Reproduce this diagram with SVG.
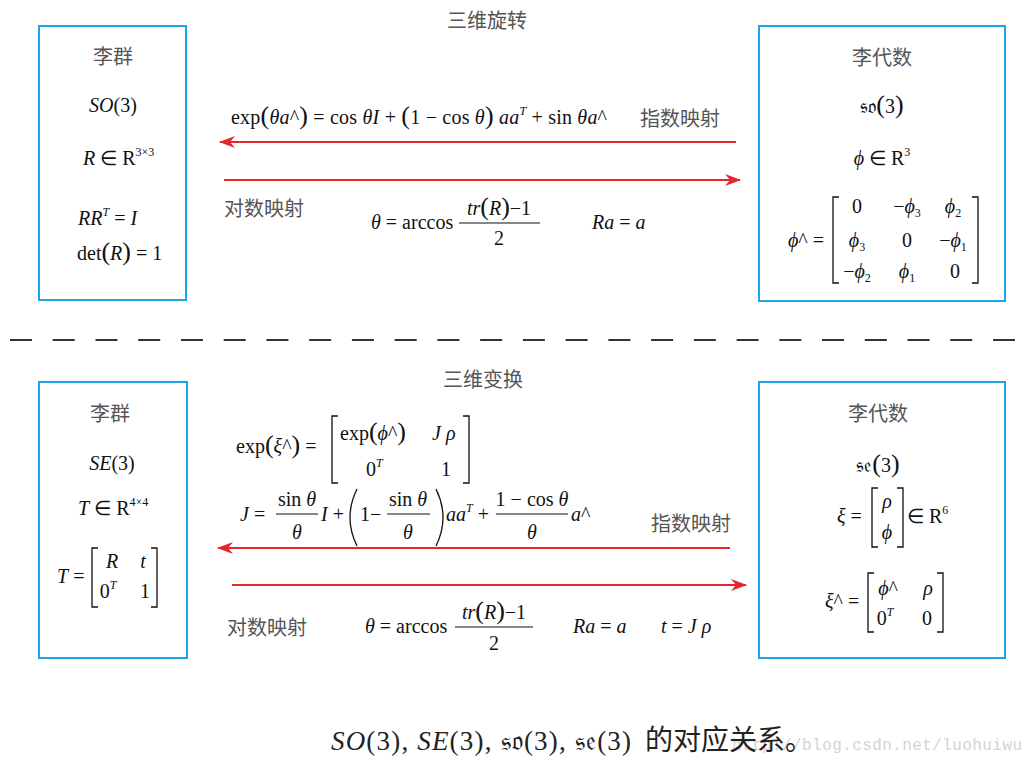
<svg xmlns="http://www.w3.org/2000/svg" width="1024" height="760" viewBox="0 0 1024 760">
<style>
.m{font-family:"Liberation Serif","Times New Roman",serif;font-size:20px;fill:#111}
.i{font-style:italic}
.s{font-size:12px}
.b{font-size:26px}
.cn{font-family:"Noto Sans CJK SC",sans-serif;font-size:20px;fill:#555}
.box{fill:#fff;stroke:#1aa6e6;stroke-width:2}
.br{fill:none;stroke:#111;stroke-width:1.3}
.fl{stroke:#111;stroke-width:1}
.arr{stroke:#e5262b;stroke-width:2;fill:none;marker-end:url(#ah)}
</style>
<defs>
<marker id="ah" viewBox="0 0 16 12" refX="15" refY="6" markerWidth="16" markerHeight="12" orient="auto" markerUnits="userSpaceOnUse">
<path d="M0,0 L16,6 L0,12 L5,6 z" fill="#e5262b"/>
</marker>
</defs>
<rect width="1024" height="760" fill="#fff"/>

<text class="cn" x="447" y="28">三维旋转</text>
<text class="cn" x="443" y="387">三维变换</text>

<g id="so3-group">
<rect class="box" x="39" y="26" width="147" height="274"/>
<text class="cn" x="113" y="64" text-anchor="middle">李群</text>
<text class="m" x="113" y="112" text-anchor="middle"><tspan class="i">SO</tspan>(3)</text>
<text class="m" x="83" y="165"><tspan class="i">R</tspan> ∈ R<tspan class="s" dy="-9">3×3</tspan></text>
<text class="m" x="78" y="225"><tspan class="i">RR</tspan><tspan class="s i" dy="-9">T</tspan><tspan dy="9"> = </tspan><tspan class="i">I</tspan></text>
<text class="m" x="77" y="260">det<tspan class="b">(</tspan><tspan class="i">R</tspan><tspan class="b">)</tspan> = 1</text>
</g>

<g id="so3-algebra">
<rect class="box" x="759" y="26" width="246" height="275"/>
<text class="cn" x="882" y="65" text-anchor="middle">李代数</text>
<text class="m" x="882" y="113" text-anchor="middle">𝔰𝔬<tspan class="b">(</tspan>3<tspan class="b">)</tspan></text>
<text class="m" x="882" y="165" text-anchor="middle"><tspan class="i">ϕ</tspan> ∈ R<tspan class="s" dy="-9">3</tspan></text>
<text class="m" x="788" y="247"><tspan class="i">ϕ</tspan>^ =</text>
<path class="br" d="M839,197 H833 V283 H839 M972,197 H978 V283 H972"/>
<g class="m" text-anchor="middle">
<text x="857" y="213">0</text>
<text x="907" y="213">−<tspan class="i">ϕ</tspan><tspan class="s" dy="4">3</tspan></text>
<text x="953" y="213"><tspan class="i">ϕ</tspan><tspan class="s" dy="4">2</tspan></text>
<text x="857" y="247"><tspan class="i">ϕ</tspan><tspan class="s" dy="4">3</tspan></text>
<text x="907" y="247">0</text>
<text x="953" y="247">−<tspan class="i">ϕ</tspan><tspan class="s" dy="4">1</tspan></text>
<text x="857" y="278">−<tspan class="i">ϕ</tspan><tspan class="s" dy="4">2</tspan></text>
<text x="907" y="278"><tspan class="i">ϕ</tspan><tspan class="s" dy="4">1</tspan></text>
<text x="955" y="278">0</text>
</g>
</g>

<g id="se3-group">
<rect class="box" x="39" y="382" width="148" height="276"/>
<text class="cn" x="110" y="421" text-anchor="middle">李群</text>
<text class="m" x="112" y="470" text-anchor="middle"><tspan class="i">SE</tspan>(3)</text>
<text class="m" x="78" y="515"><tspan class="i">T</tspan> ∈ R<tspan class="s" dy="-9">4×4</tspan></text>
<text class="m" x="57" y="583"><tspan class="i">T</tspan> =</text>
<path class="br" d="M98,548 H92 V607 H98 M151,548 H157 V607 H151"/>
<g class="m" text-anchor="middle">
<text class="i" x="112" y="568">R</text>
<text class="i" x="143" y="568">t</text>
<text x="108" y="598">0<tspan class="s i" dy="-9">T</tspan></text>
<text x="145" y="598">1</text>
</g>
</g>

<g id="se3-algebra">
<rect class="box" x="759" y="382" width="246" height="276"/>
<text class="cn" x="878" y="421" text-anchor="middle">李代数</text>
<text class="m" x="878" y="472" text-anchor="middle">𝔰𝔢<tspan class="b">(</tspan>3<tspan class="b">)</tspan></text>
<text class="m" x="837" y="523"><tspan class="i">ξ</tspan> =</text>
<path class="br" d="M878,488 H872 V547 H878 M897,488 H903 V547 H897"/>
<text class="m i" x="887" y="508" text-anchor="middle">ρ</text>
<text class="m i" x="887" y="539" text-anchor="middle">ϕ</text>
<text class="m" x="907" y="523">∈ R<tspan class="s" dy="-9">6</tspan></text>
<text class="m" x="825" y="608"><tspan class="i">ξ</tspan>^ =</text>
<path class="br" d="M874,573 H868 V632 H874 M937,573 H943 V632 H937"/>
<g class="m" text-anchor="middle">
<text x="888" y="595"><tspan class="i">ϕ</tspan>^</text>
<text class="i" x="928" y="595">ρ</text>
<text x="885" y="625">0<tspan class="s i" dy="-9">T</tspan></text>
<text x="927" y="625">0</text>
</g>
</g>

<g id="connectors">
<line class="arr" x1="736" y1="142" x2="220" y2="142"/>
<line class="arr" x1="224" y1="180" x2="740" y2="180"/>
<line class="arr" x1="730" y1="548" x2="218" y2="548"/>
<line class="arr" x1="232" y1="585" x2="746" y2="585"/>
<line x1="10" y1="340" x2="1015" y2="340" stroke="#333" stroke-width="2" stroke-dasharray="22 20.74"/>
</g>

<g id="top-labels">
<text class="m" x="231" y="124" textLength="376">exp<tspan class="b">(</tspan><tspan class="i">θa</tspan>^<tspan class="b">)</tspan> = cos <tspan class="i">θI</tspan> + <tspan class="b">(</tspan>1 − cos <tspan class="i">θ</tspan><tspan class="b">)</tspan> <tspan class="i">aa</tspan><tspan class="s i" dy="-9">T</tspan><tspan dy="9"> + sin </tspan><tspan class="i">θa</tspan>^</text>
<text class="cn" x="640" y="126">指数映射</text>
<text class="cn" x="224" y="216">对数映射</text>
<text class="m" x="371" y="229"><tspan class="i">θ</tspan> = arccos</text>
<text class="m" x="499" y="215" text-anchor="middle"><tspan class="i">tr</tspan><tspan class="b">(</tspan><tspan class="i">R</tspan><tspan class="b">)</tspan>−1</text>
<line class="fl" x1="459" y1="223" x2="540" y2="223"/>
<text class="m" x="499" y="245" text-anchor="middle">2</text>
<text class="m" x="592" y="229"><tspan class="i">Ra</tspan> = <tspan class="i">a</tspan></text>
</g>

<g id="bottom-labels">
<text class="m" x="236" y="453">exp<tspan class="b">(</tspan><tspan class="i">ξ</tspan>^<tspan class="b">)</tspan> =</text>
<path class="br" d="M338,416 H332 V483 H338 M463,416 H469 V483 H463"/>
<text class="m" x="340" y="440">exp<tspan class="b">(</tspan><tspan class="i">ϕ</tspan>^<tspan class="b">)</tspan></text>
<text class="m i" x="432" y="440">J ρ</text>
<text class="m" x="366" y="476">0<tspan class="s i" dy="-9">T</tspan></text>
<text class="m" x="446" y="476" text-anchor="middle">1</text>

<text class="m i" x="240" y="521">J<tspan font-style="normal"> =</tspan></text>
<text class="m" x="297" y="506" text-anchor="middle">sin <tspan class="i">θ</tspan></text>
<line class="fl" x1="276" y1="514" x2="318" y2="514"/>
<text class="m i" x="297" y="539" text-anchor="middle">θ</text>
<text class="m" x="321" y="521"><tspan class="i">I</tspan> +</text>
<path class="br" d="M357,489 Q343,517.5 357,546" stroke-width="1.6"/>
<text class="m" x="360" y="521">1−</text>
<text class="m" x="408" y="506" text-anchor="middle">sin <tspan class="i">θ</tspan></text>
<line class="fl" x1="387" y1="514" x2="430" y2="514"/>
<text class="m i" x="408" y="539" text-anchor="middle">θ</text>
<path class="br" d="M436,489 Q450,517.5 436,546" stroke-width="1.6"/>
<text class="m" x="446" y="521"><tspan class="i">aa</tspan><tspan class="s i" dy="-9">T</tspan><tspan dy="9"> +</tspan></text>
<text class="m" x="532" y="506" text-anchor="middle">1 − cos <tspan class="i">θ</tspan></text>
<line class="fl" x1="496" y1="514" x2="568" y2="514"/>
<text class="m i" x="532" y="539" text-anchor="middle">θ</text>
<text class="m" x="571" y="521"><tspan class="i">a</tspan>^</text>
<text class="cn" x="651" y="531">指数映射</text>

<text class="cn" x="227" y="635">对数映射</text>
<text class="m" x="365" y="633"><tspan class="i">θ</tspan> = arccos</text>
<text class="m" x="494" y="619" text-anchor="middle"><tspan class="i">tr</tspan><tspan class="b">(</tspan><tspan class="i">R</tspan><tspan class="b">)</tspan>−1</text>
<line class="fl" x1="455" y1="627" x2="533" y2="627"/>
<text class="m" x="494" y="650" text-anchor="middle">2</text>
<text class="m" x="573" y="633"><tspan class="i">Ra</tspan> = <tspan class="i">a</tspan></text>
<text class="m" x="661" y="633"><tspan class="i">t</tspan> = <tspan class="i">J ρ</tspan></text>
</g>

<g id="caption">
<text x="732" y="750" font-family="Liberation Mono,monospace" font-size="16" fill="#d4d4d4" textLength="290">http://blog.csdn.net/luohuiwu</text>
<text x="331" y="750" font-family="Liberation Serif,DejaVu Serif,serif" font-size="27" fill="#222" textLength="300"><tspan font-style="italic">SO</tspan>(3), <tspan font-style="italic">SE</tspan>(3), 𝔰𝔬(3), 𝔰𝔢(3)</text>
<text x="645" y="750" font-family="Noto Sans CJK SC,sans-serif" font-size="28" fill="#222">的对应关系。</text>
</g>
</svg>
